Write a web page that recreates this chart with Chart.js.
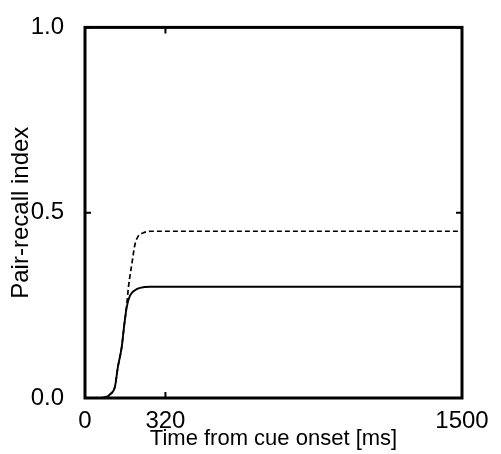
<!DOCTYPE html>
<html>
<head>
<meta charset="utf-8">
<script src="https://cdn.jsdelivr.net/npm/chart.js@4/dist/chart.umd.min.js"></script>
<style>
html,body{margin:0;padding:0;background:#fff;}
#wrap{width:501px;height:454px;}
</style>
</head>
<body>
<div id="wrap"><canvas id="c" width="501" height="454"></canvas></div>
<script>
const timeSolid = [0, 60, 80, 100, 119, 131, 146, 155, 166, 179, 199, 219, 260, 400, 1500];
const valSolid  = [0, 0, 0.002, 0.01, 0.03, 0.084, 0.137, 0.19, 0.245, 0.276, 0.291, 0.297, 0.30, 0.30, 0.30];
const timeDashed = [0, 60, 80, 100, 119, 131, 146, 155, 166, 173, 186, 199, 212, 230, 260, 400, 1500];
const valDashed  = [0, 0, 0.002, 0.01, 0.03, 0.084, 0.137, 0.19, 0.25, 0.30, 0.36, 0.415, 0.437, 0.445, 0.45, 0.45, 0.45];
const xTicks = [0, 320, 1500];
const yTicks = [0, 0.5, 1.0];
const xTitle = 'Time from cue onset [ms]';
const yTitle = 'Pair-recall index';

const FONT = 'Liberation Sans, Arial, sans-serif';

const boxPlugin = {
  id: 'box',
  afterDraw(chart) {
    const ctx = chart.ctx, a = chart.chartArea;
    const xs = chart.scales.x, ys = chart.scales.y;
    ctx.save();
    ctx.strokeStyle = '#000';
    ctx.lineWidth = 2;
    const tl = 6;
    xTicks.forEach(v => {
      const px = xs.getPixelForValue(v);
      ctx.beginPath();
      ctx.moveTo(px, a.bottom); ctx.lineTo(px, a.bottom - tl);
      ctx.moveTo(px, a.top); ctx.lineTo(px, a.top + tl);
      ctx.stroke();
    });
    yTicks.forEach(v => {
      const py = ys.getPixelForValue(v);
      ctx.beginPath();
      ctx.moveTo(a.left, py); ctx.lineTo(a.left + tl, py);
      ctx.moveTo(a.right, py); ctx.lineTo(a.right - tl, py);
      ctx.stroke();
    });
    ctx.lineWidth = 3;
    ctx.strokeRect(a.left, a.top, a.right - a.left, a.bottom - a.top);
    ctx.restore();
  }
};

new Chart(document.getElementById('c'), {
  type: 'line',
  data: {
    datasets: [
      {
        data: timeDashed.map((t, i) => ({x: t, y: valDashed[i]})),
        borderColor: '#000', borderWidth: 1.7, borderDash: [5, 3],
        pointRadius: 0, cubicInterpolationMode: 'monotone', fill: false
      },
      {
        data: timeSolid.map((t, i) => ({x: t, y: valSolid[i]})),
        borderColor: '#000', borderWidth: 1.9,
        pointRadius: 0, cubicInterpolationMode: 'monotone', fill: false
      }
    ]
  },
  options: {
    responsive: false,
    animation: false,
    devicePixelRatio: 1,
    layout: {padding: {left: 0, right: 39, top: 17, bottom: 0}},
    plugins: {legend: {display: false}, tooltip: {enabled: false}},
    scales: {
      x: {
        type: 'linear', min: 0, max: 1500,
        afterBuildTicks: s => { s.ticks = xTicks.map(v => ({value: v})); },
        afterFit: s => { s.height = 56; },
        grid: {display: false}, border: {display: false},
        ticks: {color: '#000', font: {family: FONT, size: 24}, padding: 1, maxRotation: 0,
                callback: v => String(v)},
        title: {display: true, text: xTitle, color: '#000', font: {family: FONT, size: 22, lineHeight: 1.0}, padding: {top: 0, bottom: 4}}
      },
      y: {
        type: 'linear', min: 0, max: 1,
        afterBuildTicks: s => { s.ticks = yTicks.map(v => ({value: v})); },
        afterFit: s => { s.width = 85; },
        grid: {display: false}, border: {display: false},
        ticks: {color: '#000', font: {family: FONT, size: 24}, padding: 13,
                callback: v => Number(v).toFixed(1)},
        title: {display: true, text: yTitle, color: '#000', font: {family: FONT, size: 24, lineHeight: 1.0}, padding: {top: 9, bottom: 0}}
      }
    }
  },
  plugins: [boxPlugin]
});
</script>
</body>
</html>
